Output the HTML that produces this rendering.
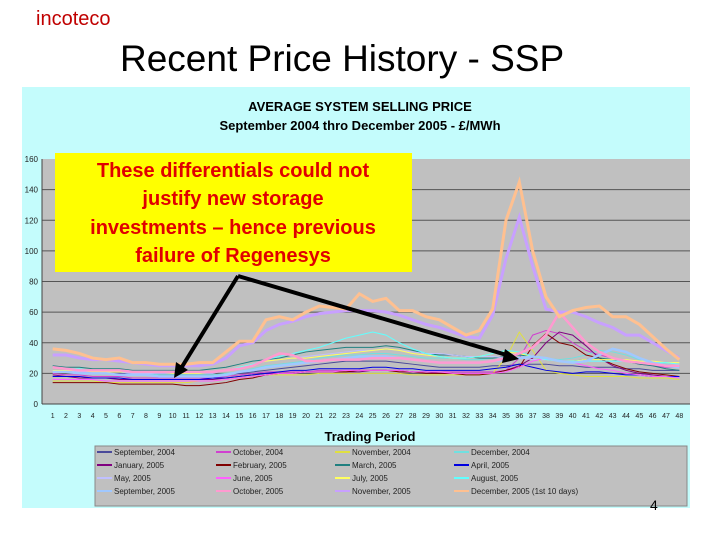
<!DOCTYPE html>
<html><head><meta charset="utf-8"><style>
body{margin:0;width:720px;height:540px;background:#fff;overflow:hidden;font-family:"Liberation Sans",sans-serif;position:relative}
.abs{position:absolute}
</style></head><body>
<div class="abs" style="left:36px;top:8px;color:#c00000;font-size:20px;">incoteco</div>
<div class="abs" style="left:120px;top:38px;font-size:37px;color:#000;">Recent Price History - SSP</div>
<svg class="abs" style="left:0;top:0" width="720" height="540">
<rect x="22" y="87" width="668" height="421" fill="#c4fcfc"/>
<text x="360" y="111" text-anchor="middle" font-size="13" font-weight="bold">AVERAGE SYSTEM SELLING PRICE</text>
<text x="360" y="130" text-anchor="middle" font-size="13" font-weight="bold">September 2004 thro December 2005 - £/MWh</text>
<rect x="42" y="159" width="648" height="245" fill="#c0c0c0"/>
<g id="grid"></g><g id="lines"></g><g id="axes"></g>
<text x="370" y="441" text-anchor="middle" font-size="13" font-weight="bold">Trading Period</text>
<rect x="95" y="446" width="592" height="60" fill="#c0c0c0" stroke="#888"/>
<g id="legend"></g>
<rect x="55" y="153" width="357" height="119" fill="#ffff00"/>
<g font-size="20" font-weight="bold" fill="#e00000" text-anchor="middle">
<text x="233" y="177">These differentials could not</text>
<text x="233" y="205">justify new storage</text>
<text x="233" y="234">investments – hence previous</text>
<text x="233" y="262">failure of Regenesys</text></g>
<g stroke="#000" stroke-width="4">
<line x1="238" y1="276" x2="180" y2="370"/><line x1="238" y1="276" x2="510" y2="356"/></g>
<polygon points="174,378 176,362 188,370" fill="#000"/>
<polygon points="519,359 505,349 502,363" fill="#000"/>
</svg>
<div class="abs" style="left:650px;top:497px;font-size:14px;z-index:5;">4</div>
<script>
const periods=[];for(let i=1;i<=48;i++)periods.push(i);
const yTicks=[0,20,40,60,80,100,120,140,160];
const names=["September, 2004","October, 2004","November, 2004","December, 2004","January, 2005","February, 2005","March, 2005","April, 2005","May, 2005","June, 2005","July, 2005","August, 2005","September, 2005","October, 2005","November, 2005","December, 2005 (1st 10 days)"];
const colors=["#4a4a9a","#d040d0","#e0e040","#70e0e0","#800080","#800000","#208080","#0000e0","#c0c0ff","#ff60ff","#ffff60","#60ffff","#a0c8ff","#ff9ad0","#c8a0ff","#ffc090"];
const widths=[1,1,1,1,1,1,1,1,1,1,1,1,2.5,2.5,3,3];
const s0=[22,22,21,21,20,20,20,19,19,19,19,19,19,19,20,21,22,23,24,25,26,27,28,28,28,28,27,26,25,24,24,24,24,25,25,26,26,26,25,25,24,24,24,23,23,22,22,22];
const s1=[20,19,19,18,18,18,17,17,17,17,17,17,17,18,19,20,21,21,21,21,22,22,22,22,22,22,21,21,21,21,21,21,21,21,22,30,45,48,46,40,35,32,30,28,26,25,24,24];
const s2=[15,15,15,15,14,14,14,14,14,14,14,15,15,16,17,18,19,19,19,19,20,20,20,20,20,20,20,19,19,19,19,19,19,20,30,47,35,22,20,19,18,18,18,18,17,17,17,16];
const s3=[24,23,22,22,21,21,20,20,19,19,19,19,19,20,21,23,25,26,27,28,30,31,32,32,33,33,32,31,30,30,30,29,29,30,31,32,31,30,29,30,32,35,34,32,29,27,26,25];
const s4=[19,18,17,17,17,16,16,16,16,16,16,16,16,17,18,19,20,20,20,21,21,21,21,21,22,22,22,21,21,20,20,20,20,20,22,25,30,40,47,45,38,30,25,22,20,19,18,18];
const s5=[14,14,14,14,14,13,13,13,13,13,12,12,13,14,16,17,19,20,20,21,21,21,21,22,22,22,21,21,20,20,20,19,19,20,22,24,38,46,40,38,32,30,26,23,21,20,19,18];
const s6=[25,24,24,23,23,23,22,22,22,22,22,22,23,24,26,28,29,30,32,34,35,36,37,37,37,38,37,35,33,32,32,31,30,30,31,32,31,29,28,28,29,30,29,28,26,25,23,22];
const s7=[18,18,18,17,17,17,16,16,16,16,16,16,17,17,18,19,20,21,22,22,23,23,23,23,24,24,23,23,22,22,22,22,22,23,24,26,24,22,21,20,21,21,20,19,19,18,18,18];
const s8=[22,22,21,21,21,21,20,20,20,20,20,20,20,22,24,26,28,29,30,31,32,33,34,35,35,36,35,34,33,33,32,31,31,31,30,30,29,29,28,28,28,28,28,28,28,27,27,26];
const s9=[16,16,16,16,15,15,15,15,15,15,15,15,15,16,17,18,19,20,20,21,21,21,22,22,22,22,22,21,21,21,20,20,20,20,21,24,28,30,28,27,25,23,22,20,19,18,18,17];
const s10=[22,22,22,21,21,21,21,21,21,20,20,20,21,22,24,26,28,29,30,30,31,32,33,34,35,36,35,33,32,31,30,30,31,33,34,33,31,29,28,28,29,29,29,29,28,28,27,27];
const s11=[24,23,23,22,22,22,21,21,21,21,21,21,21,22,24,26,29,31,33,35,37,40,43,45,47,45,40,36,33,31,30,30,31,33,35,34,31,29,28,28,28,28,28,28,27,27,27,26];
const s12=[21,21,20,20,20,19,19,19,18,18,18,18,18,19,21,22,24,25,26,27,28,29,30,31,31,31,30,29,28,27,27,27,27,28,29,30,31,30,28,27,28,32,36,34,30,27,25,24];
const s13=[24,23,22,22,22,22,21,21,21,21,21,21,21,22,23,25,29,33,32,28,28,29,29,29,30,30,30,29,28,27,27,27,27,28,30,33,37,45,60,50,40,34,30,28,27,26,25,25];
const s14=[32,32,30,29,29,28,27,26,25,25,25,25,26,30,38,40,48,52,54,57,59,60,61,61,61,60,58,55,52,50,47,44,43,58,95,122,90,62,60,60,57,53,50,45,45,40,35,30];
const s15=[36,35,33,30,29,30,27,27,26,26,26,27,27,34,41,41,55,57,55,60,64,63,62,72,67,69,61,61,57,55,50,45,48,62,120,145,100,70,57,61,63,64,57,57,52,44,36,29];
const series=[s0,s1,s2,s3,s4,s5,s6,s7,s8,s9,s10,s11,s12,s13,s14,s15];
const NS="http://www.w3.org/2000/svg";
const X0=42,X1=690,Y0=404,Y1=159;
const xs=p=>X0+(p-0.5)*(X1-X0)/48.6+4;
const ys=v=>Y0-v*(Y0-Y1)/160;
function mk(t,a,parent){const e=document.createElementNS(NS,t);for(const k in a)e.setAttribute(k,a[k]);document.getElementById(parent).appendChild(e);return e;}
yTicks.forEach(v=>{
 if(v>0&&v%20===0&&v<160){const g=mk('line',{x1:X0,x2:X1,y1:ys(v),y2:ys(v),stroke:'#555','stroke-width':1},'grid');
 
 }
 const t=mk('text',{x:X0-4,y:ys(v)+3,'text-anchor':'end','font-size':8,fill:'#222'},'axes');t.textContent=v;
 
 
});
mk('line',{x1:X0,x2:X0,y1:Y1,y2:Y0,stroke:'#444'},'axes');
mk('line',{x1:X0,x2:X1,y1:Y0,y2:Y0,stroke:'#444'},'axes');
periods.forEach(p=>{const t=mk('text',{x:xs(p),y:Y0+14,'text-anchor':'middle','font-size':7,fill:'#222'},'axes');t.textContent=p;
 
 });
series.forEach((s,i)=>{const pl=mk('polyline',{points:s.map((v,j)=>xs(periods[j])+','+ys(v)).join(' '),fill:'none',stroke:colors[i],'stroke-width':widths[i]},'lines');
 
 });
names.forEach((n,i)=>{const c=i%4,r=Math.floor(i/4);const x=97+c*119,y=455+r*13;
 mk('line',{x1:x,x2:x+15,y1:y-3,y2:y-3,stroke:colors[i],'stroke-width':2},'legend');
 const t=mk('text',{x:x+17,y:y,'font-size':8,fill:'#222'},'legend');t.textContent=n;
 
 });
</script>
</body></html>
